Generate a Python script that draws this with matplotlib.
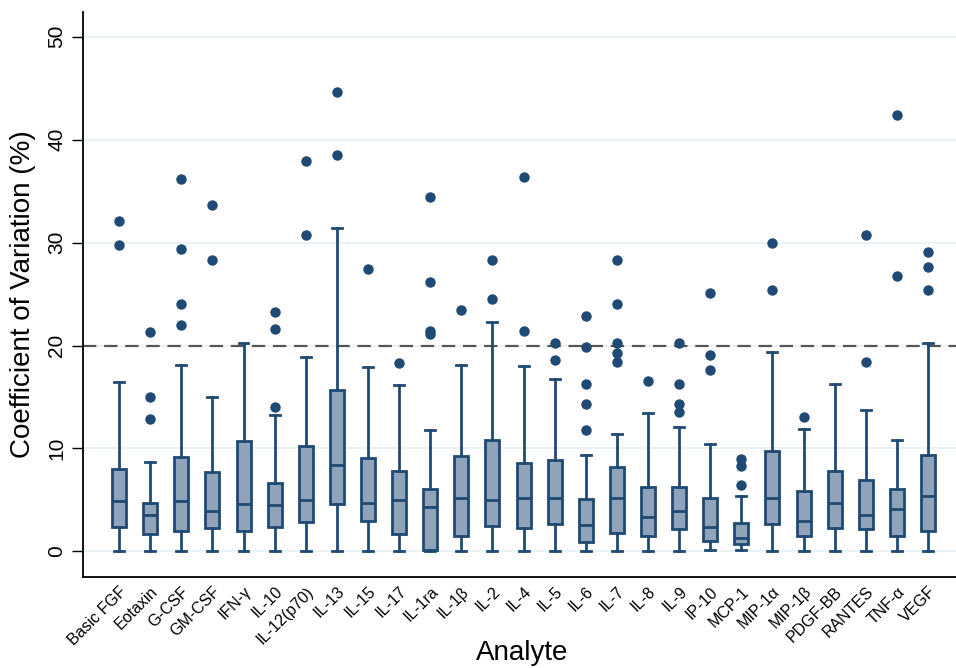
import matplotlib
matplotlib.use("Agg")
import matplotlib.pyplot as plt

plt.rcParams['font.family'] = ['Liberation Sans', 'DejaVu Sans']

analytes = ["Basic FGF", "Eotaxin", "G-CSF", "GM-CSF", "IFN-γ", "IL-10", "IL-12(p70)",
            "IL-13", "IL-15", "IL-17", "IL-1ra", "IL-1β", "IL-2", "IL-4", "IL-5", "IL-6",
            "IL-7", "IL-8", "IL-9", "IP-10", "MCP-1", "MIP-1α", "MIP-1β", "PDGF-BB",
            "RANTES", "TNF-α", "VEGF"]

whisker_low = [0, 0, 0, 0, 0, 0, 0, 0, 0, 0, 0, 0, 0, 0, 0, 0, 0, 0, 0, 0.15, 0.1,
               0, 0, 0, 0, 0, 0]
q1 = [2.35, 1.7, 2.0, 2.25, 2.0, 2.35, 2.85, 4.6, 2.95, 1.7, 0.1, 1.5, 2.45, 2.25, 2.7,
      0.95, 1.8, 1.45, 2.15, 1.05, 0.7, 2.7, 1.45, 2.25, 2.2, 1.45, 1.95]
median = [4.9, 3.55, 4.9, 3.9, 4.65, 4.55, 5.0, 8.35, 4.75, 5.0, 4.3, 5.2, 4.95, 5.2, 5.2,
          2.6, 5.2, 3.3, 3.9, 2.4, 1.35, 5.2, 3.0, 4.7, 3.5, 4.1, 5.4]
q3 = [8.0, 4.7, 9.2, 7.7, 10.75, 6.6, 10.2, 15.65, 9.1, 7.85, 6.05, 9.3, 10.8, 8.55, 8.9,
      5.1, 8.2, 6.3, 6.3, 5.15, 2.75, 9.75, 5.85, 7.85, 6.9, 6.05, 9.35]
whisker_high = [16.5, 8.7, 18.1, 15.0, 20.2, 13.25, 18.9, 31.4, 17.95, 16.2, 11.75, 18.1,
                22.3, 18.0, 16.75, 9.35, 11.45, 13.45, 12.05, 10.45, 5.35, 19.4, 11.9,
                16.3, 13.7, 10.85, 20.2]
outliers = [
    [29.8, 32.1],
    [12.9, 15.0, 21.3],
    [22.0, 24.0, 29.4, 36.2],
    [28.3, 33.7],
    [],
    [14.0, 21.6, 23.3],
    [30.7, 37.9],
    [38.55, 44.65],
    [27.4],
    [18.3],
    [21.1, 21.4, 26.2, 34.4],
    [23.5],
    [24.5, 28.3],
    [21.4, 36.4],
    [18.6, 20.2],
    [11.8, 14.3, 16.25, 19.9, 22.9],
    [18.4, 19.3, 20.2, 24.0, 28.3],
    [16.6],
    [13.5, 14.3, 16.25, 20.2],
    [17.6, 19.05, 25.1],
    [6.5, 8.3, 9.0],
    [25.35, 30.0],
    [13.05],
    [],
    [18.4, 30.7],
    [26.75, 42.4],
    [25.35, 27.65, 29.1],
]
threshold = 20
yticks = [0, 10, 20, 30, 40, 50]

edge = "#1f4a73"
fill = "#8fa3bb"

fig = plt.figure(figsize=(9.56, 6.68), dpi=100)
ax = fig.add_axes([0.0868, 0.136, 0.9132, 0.846])

stats = []
for i, name in enumerate(analytes):
    stats.append(dict(label=name, whislo=whisker_low[i], q1=q1[i], med=median[i],
                      q3=q3[i], whishi=whisker_high[i], fliers=outliers[i]))

positions = list(range(1, len(analytes) + 1))

for y in yticks:
    ax.axhline(y, color="#e8f0f3", lw=1.2, zorder=0)
ax.axhline(threshold, color="#555555", lw=1.6, ls=(0, (6, 3.5)), zorder=1)

ax.bxp(stats, positions=positions, widths=0.45, patch_artist=True, showfliers=True,
       boxprops=dict(facecolor=fill, edgecolor=edge, linewidth=2.0),
       medianprops=dict(color=edge, linewidth=2.0),
       whiskerprops=dict(color=edge, linewidth=2.0),
       capprops=dict(color=edge, linewidth=2.0),
       capwidths=0.32,
       flierprops=dict(marker='o', markerfacecolor=edge, markeredgecolor=edge,
                       markersize=6.5, linestyle='none'),
       zorder=3)

ax.set_xlim(-0.16, 27.9)
ax.set_ylim(-2.5, 52.4)
ax.set_yticks(yticks)
ax.set_yticklabels([str(v) for v in yticks], rotation=90, va='center', fontsize=15)
ax.tick_params(axis='y', length=8, width=1.0, pad=4)
ax.set_xticks(positions)
ax.set_xticklabels(analytes, rotation=45, ha='right', rotation_mode='anchor', fontsize=11.5)
ax.tick_params(axis='x', length=0, pad=5)

for s in ['top', 'right']:
    ax.spines[s].set_visible(False)
for s in ['left', 'bottom']:
    ax.spines[s].set_linewidth(1.3)

ax.set_ylabel("Coefficient of Variation (%)", fontsize=20, labelpad=8)
ax.set_xlabel("Analyte", fontsize=20)
ax.xaxis.set_label_coords(0.503, -0.112)

fig.savefig("out.png", dpi=100)
